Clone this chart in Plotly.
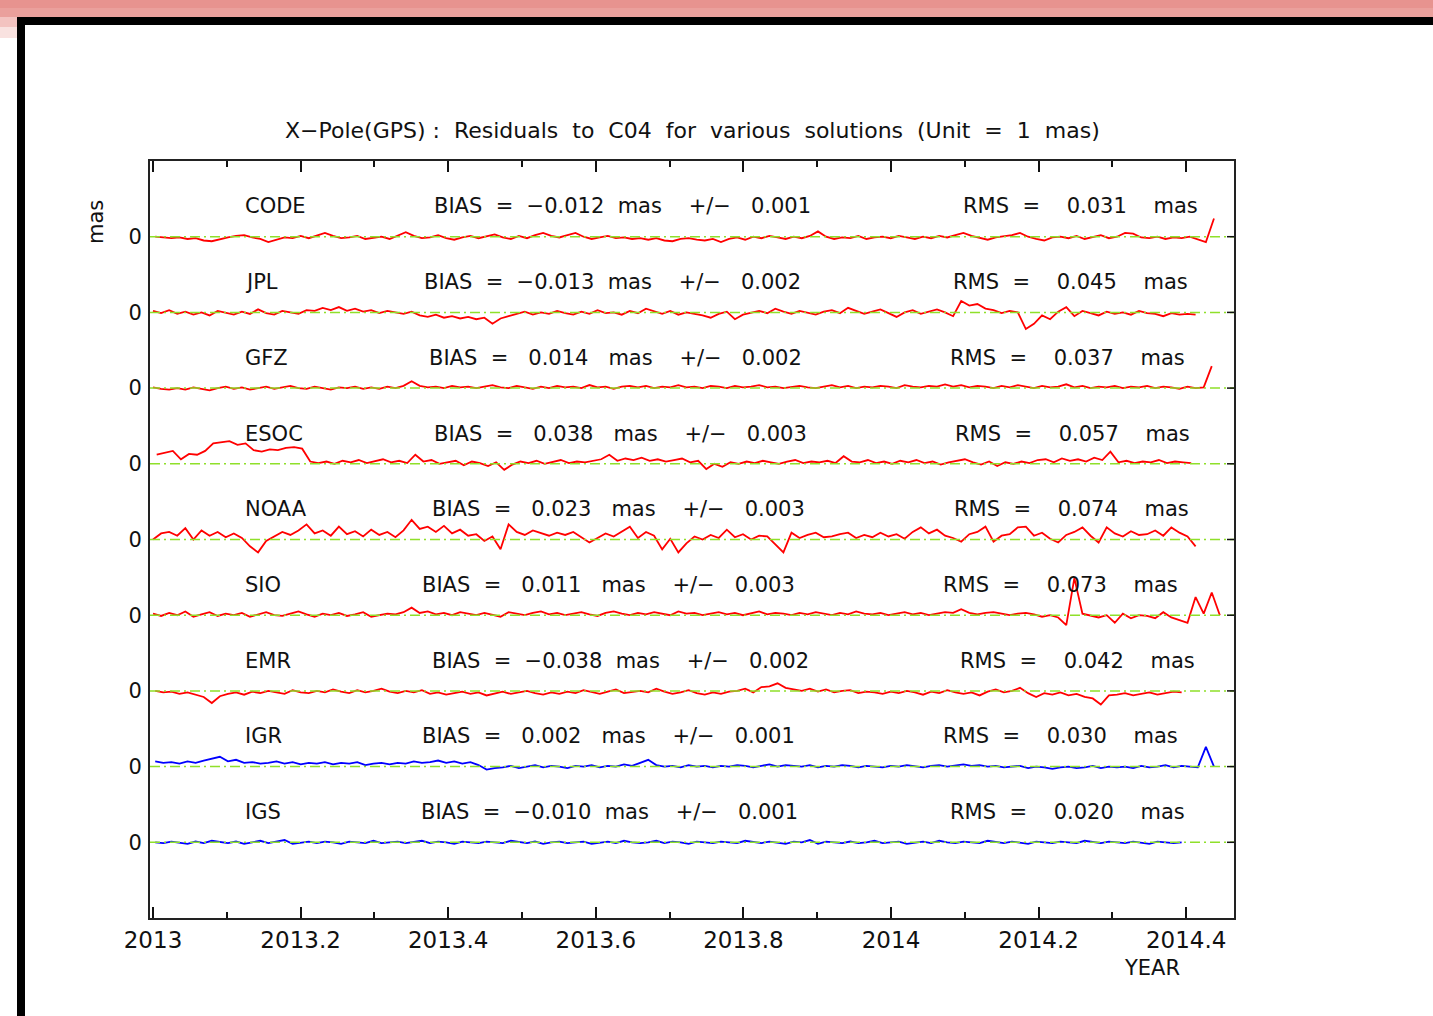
import numpy as np
import plotly.graph_objects as go

# ---------------------------------------------------------------------------
# Data: X-pole residuals (mas) w.r.t. C04, sampled every 4 days
# ---------------------------------------------------------------------------
SOLUTIONS = ["CODE", "JPL", "GFZ", "ESOC", "NOAA", "SIO", "EMR", "IGR", "IGS"]
BIAS = ["−0.012", "−0.013", "0.014", "0.038", "0.023", "0.011", "−0.038", "0.002", "−0.010"]
BIAS_ERR = ["0.001", "0.002", "0.002", "0.003", "0.003", "0.003", "0.002", "0.001", "0.001"]
RMS = ["0.031", "0.045", "0.037", "0.057", "0.074", "0.073", "0.042", "0.030", "0.020"]
START_YEAR = [2013.003, 2013.0, 2013.0, 2013.005, 2013.0, 2013.0, 2013.003, 2013.003, 2013.003]
STEP_DAYS = 4

code_res = [
    0.00, -0.01, -0.02, -0.01, -0.03, -0.02, -0.05, -0.06, -0.03, -0.01,
    0.01, 0.02, -0.01, -0.03, -0.07, -0.04, -0.01, -0.02, 0.01, -0.02,
    0.02, 0.05, 0.01, -0.02, -0.01, 0.01, -0.03, -0.02, 0.00, -0.03,
    0.02, 0.06, 0.01, -0.02, -0.01, 0.02, -0.02, -0.04, -0.01, 0.01,
    -0.02, 0.00, 0.03, -0.01, -0.03, 0.01, -0.02, 0.02, 0.05, 0.01,
    -0.01, 0.02, 0.05, 0.00, -0.03, -0.01, 0.01, -0.02, -0.01, -0.03,
    -0.02, -0.04, -0.02, -0.05, -0.06, -0.03, -0.02, -0.04, -0.05, -0.03,
    -0.07, -0.03, -0.01, -0.04, 0.00, -0.02, 0.01, -0.01, -0.03, 0.00,
    -0.02, 0.01, 0.07, 0.00, -0.03, -0.01, -0.02, 0.01, -0.03, -0.01,
    0.00, -0.02, 0.01, -0.01, -0.03, 0.00, -0.02, 0.01, -0.01, 0.02,
    0.05, 0.01, -0.02, -0.04, -0.01, 0.00, 0.02, 0.05, 0.00, -0.03,
    -0.05, -0.01, 0.00, -0.02, 0.01, -0.03, -0.01, 0.02, -0.02, 0.00,
    0.05, 0.04, -0.01, -0.02, 0.00, -0.03, -0.01, -0.02, 0.00, -0.03,
    -0.07, 0.24,
]

jpl_res = [
    0.02, -0.01, 0.03, -0.02, 0.01, -0.03, 0.00, -0.04, 0.02, -0.01,
    -0.03, 0.01, -0.02, 0.04, -0.01, -0.03, 0.02, 0.00, -0.02, 0.03,
    0.02, 0.06, 0.03, 0.07, 0.02, 0.05, 0.01, 0.03, -0.01, 0.02,
    0.00, -0.02, 0.01, -0.04, -0.06, -0.03, -0.07, -0.05, -0.08, -0.06,
    -0.09, -0.07, -0.15, -0.08, -0.05, -0.02, 0.01, -0.03, 0.00, -0.02,
    0.02, -0.01, -0.03, 0.01, -0.02, 0.03, -0.01, 0.00, -0.03, 0.02,
    -0.01, 0.05, 0.01, -0.02, 0.02, -0.03, 0.00, -0.02, -0.04, -0.07,
    -0.02, 0.01, -0.09, -0.03, 0.00, 0.02, -0.01, 0.05, 0.01, -0.02,
    0.02, 0.00, -0.03, 0.01, 0.03, -0.01, 0.06, 0.02, -0.02, 0.01,
    0.04, -0.01, -0.06, 0.00, 0.03, -0.02, 0.01, 0.04, 0.00, -0.05,
    0.15, 0.09, 0.11, 0.05, 0.03, -0.01, 0.02, 0.00, -0.22, -0.15,
    -0.04, -0.09, 0.01, 0.07, -0.05, 0.02, -0.01, -0.04, 0.01, -0.02,
    0.00, -0.03, 0.02, -0.01, -0.02, -0.05, -0.01, -0.03, -0.02, -0.03,
]

gfz_res = [
    0.01, -0.01, -0.02, 0.00, -0.02, 0.01, -0.01, -0.03, 0.00, 0.02,
    -0.01, 0.01, -0.02, 0.00, 0.02, -0.01, 0.01, 0.03, 0.00, -0.01,
    0.02, 0.00, -0.02, 0.01, 0.00, 0.02, -0.01, 0.01, -0.01, 0.02,
    0.00, 0.03, 0.09, 0.03, 0.01, 0.02, 0.00, 0.03, 0.01, 0.02,
    0.00, 0.02, 0.04, 0.01, 0.00, 0.03, 0.01, -0.01, 0.02, 0.00,
    0.03, 0.01, 0.02, 0.00, 0.04, 0.01, 0.02, -0.01, 0.02, 0.03,
    0.01, 0.03, 0.00, 0.02, 0.01, 0.04, 0.01, 0.02, 0.00, 0.03,
    0.02, 0.00, 0.03, 0.01, 0.02, 0.04, 0.01, 0.02, 0.00, 0.02,
    0.03, 0.01, 0.00, 0.02, 0.04, 0.01, 0.03, 0.00, 0.02, 0.01,
    0.03, 0.02, 0.00, 0.04, 0.02, 0.01, 0.03, 0.02, 0.05, 0.02,
    0.04, 0.01, 0.03, 0.02, 0.00, 0.03, 0.01, 0.04, 0.02, 0.00,
    0.03, 0.01, 0.02, 0.05, 0.01, 0.03, 0.00, 0.02, 0.01, 0.03,
    0.00, 0.02, 0.01, 0.03, 0.00, 0.02, 0.01, -0.01, 0.02, 0.00,
    0.01, 0.29,
]

esoc_res = [
    0.12, 0.15, 0.17, 0.06, 0.13, 0.12, 0.17, 0.27, 0.29, 0.30,
    0.25, 0.27, 0.18, 0.16, 0.19, 0.18, 0.21, 0.22, 0.20, 0.03,
    0.01, 0.03, 0.00, 0.04, 0.02, 0.05, 0.01, 0.03, 0.06, 0.02,
    0.04, 0.01, 0.12, 0.03, 0.05, 0.00, 0.02, 0.04, -0.02, 0.03,
    0.01, -0.03, 0.02, -0.08, -0.01, 0.03, 0.01, 0.04, 0.00, 0.02,
    0.05, 0.01, 0.03, 0.02, 0.04, 0.06, 0.12, 0.04, 0.07, 0.05,
    0.08, 0.04, 0.06, 0.03, 0.05, 0.07, 0.02, 0.04, -0.07, 0.00,
    -0.04, 0.02, 0.00, 0.03, 0.01, 0.04, 0.02, 0.00, 0.03, 0.05,
    0.01, 0.03, 0.02, 0.04, 0.01, 0.10, 0.03, 0.02, 0.05, 0.01,
    0.03, 0.00, 0.04, 0.02, 0.05, 0.01, 0.03, -0.01, 0.02, 0.04,
    0.06, 0.02, -0.01, 0.03, -0.03, 0.02, 0.00, 0.03, 0.01, 0.05,
    0.06, 0.02, 0.07, 0.04, 0.06, 0.03, 0.08, 0.05, 0.16, 0.02,
    0.04, 0.01, 0.03, 0.02, 0.05, 0.01, 0.03, 0.02, 0.01,
]

noaa_res = [
    0.00, 0.08, 0.10, 0.05, 0.15, 0.00, 0.12, 0.05, 0.10, 0.03,
    0.08, 0.02, -0.09, -0.17, -0.02, 0.04, 0.10, 0.06, 0.12, 0.20,
    0.08, 0.12, 0.05, 0.17, 0.07, 0.11, 0.04, 0.13, 0.06, 0.10,
    0.03, 0.12, 0.26, 0.14, 0.17, 0.10, 0.18, 0.08, 0.13, 0.05,
    0.07, -0.02, 0.04, -0.13, 0.20, 0.10, 0.06, 0.12, 0.08, 0.05,
    0.09, 0.06, 0.10, 0.03, -0.04, 0.02, 0.08, 0.04, 0.10, 0.17,
    0.02, 0.10, 0.05, -0.13, 0.01, -0.17, -0.05, 0.04, 0.00, 0.06,
    0.02, 0.13, 0.03, 0.07, 0.00, 0.05, 0.04, -0.06, -0.17, 0.09,
    0.02, 0.06, 0.09, 0.03, 0.04, 0.07, 0.09, 0.02, 0.06, 0.03,
    0.09, 0.04, 0.07, 0.01, 0.10, 0.16, 0.08, 0.13, 0.05, 0.02,
    -0.03, 0.07, 0.10, 0.17, -0.03, 0.05, 0.07, 0.16, 0.17, 0.05,
    0.09, 0.01, -0.04, 0.06, 0.10, 0.16, 0.05, -0.04, 0.16, 0.08,
    0.04, 0.11, 0.06, 0.07, 0.12, 0.05, 0.16, 0.09, 0.04, -0.09,
]

sio_res = [
    0.02, -0.01, 0.03, 0.00, 0.05, -0.02, 0.01, 0.04, -0.01, 0.02,
    0.00, 0.03, -0.02, 0.01, 0.04, 0.00, -0.01, 0.02, 0.05, 0.01,
    -0.02, 0.02, 0.00, 0.03, -0.01, 0.01, 0.04, -0.02, 0.00, 0.02,
    0.01, 0.04, 0.10, 0.03, 0.05, 0.01, 0.03, 0.00, 0.04, 0.02,
    0.00, 0.03, 0.01, -0.02, 0.04, 0.02, 0.00, 0.03, 0.05, 0.01,
    0.03, 0.00, 0.02, 0.04, 0.01, -0.01, 0.03, 0.05, 0.02, 0.00,
    0.03, 0.01, 0.04, 0.02, 0.00, 0.05, 0.02, 0.03, 0.00, 0.02,
    0.04, 0.01, 0.03, 0.00, 0.02, 0.05, 0.01, 0.03, 0.02, 0.00,
    0.03, 0.01, 0.04, 0.02, 0.00, 0.03, 0.01, 0.05, 0.02, 0.01,
    0.03, 0.00, 0.02, 0.04, 0.01, 0.03, 0.00, 0.02, 0.04, 0.03,
    0.08, 0.03, 0.01, 0.03, 0.04, 0.02, 0.00, 0.02, 0.03, 0.01,
    -0.02, 0.00, -0.03, -0.13, 0.49, 0.02, -0.01, -0.03, 0.00, -0.10,
    0.02, -0.04, 0.00, -0.01, -0.04, 0.04, -0.03, -0.07, -0.10, 0.24,
    0.02, 0.30, 0.00,
]

emr_res = [
    0.00, -0.02, -0.01, -0.04, -0.02, -0.05, -0.08, -0.16, -0.07, -0.04,
    -0.02, -0.05, -0.01, -0.03, 0.00, -0.02, -0.04, 0.01, -0.02, -0.03,
    0.00, -0.02, 0.02, -0.01, -0.03, 0.01, -0.02, 0.00, 0.03, -0.01,
    -0.03, 0.00, -0.02, 0.01, -0.04, -0.02, -0.05, -0.03, -0.01, -0.04,
    -0.02, -0.06, -0.03, -0.01, -0.04, -0.02, 0.00, -0.03, -0.05, -0.02,
    -0.04, -0.01, -0.03, 0.01, -0.02, -0.04, -0.01, 0.02, -0.03, -0.01,
    0.00, -0.02, 0.03, -0.01, -0.04, -0.02, 0.01, -0.03, -0.05, -0.02,
    -0.04, -0.01, 0.00, 0.03, -0.02, 0.05, 0.06, 0.10, 0.04, 0.02,
    0.00, 0.03, -0.01, 0.02, -0.02, 0.00, 0.01, -0.03, -0.01, -0.02,
    -0.04, -0.01, -0.03, 0.00, -0.02, -0.05, -0.01, -0.03, 0.01, -0.02,
    -0.04, -0.02, -0.06, -0.01, 0.02, -0.02, 0.00, 0.04, -0.03, -0.08,
    -0.03, -0.05, -0.02, -0.06, -0.04, -0.08, -0.10, -0.18, -0.06, -0.05,
    -0.03, -0.06, -0.04, -0.02, -0.05, -0.03, -0.01, -0.02,
]

igr_res = [
    0.07, 0.05, 0.06, 0.04, 0.07, 0.05, 0.08, 0.10, 0.13, 0.07,
    0.09, 0.05, 0.06, 0.04, 0.05, 0.07, 0.04, 0.06, 0.03, 0.05,
    0.04, 0.06, 0.03, 0.05, 0.04, 0.06, 0.02, 0.04, 0.05, 0.03,
    0.05, 0.04, 0.07, 0.05, 0.06, 0.08, 0.05, 0.07, 0.04, 0.06,
    0.02, -0.04, -0.02, -0.01, 0.01, -0.02, 0.00, 0.02, -0.01, 0.01,
    0.00, -0.02, 0.01, 0.00, 0.02, -0.01, 0.01, 0.00, 0.03, 0.01,
    0.05, 0.09, 0.02, 0.00, 0.01, -0.01, 0.02, 0.00, 0.01, -0.01,
    0.01, 0.00, 0.02, 0.01, -0.01, 0.01, 0.03, 0.00, 0.02, 0.01,
    0.00, 0.02, -0.01, 0.01, 0.00, 0.02, 0.01, -0.01, 0.01, 0.00,
    -0.01, 0.01, 0.00, 0.02, 0.00, -0.01, 0.01, 0.02, 0.00, 0.01,
    0.03, 0.01, 0.02, 0.00, 0.01, -0.01, 0.00, 0.01, -0.02, 0.00,
    -0.01, -0.03, -0.01, 0.00, -0.02, -0.01, 0.01, -0.02, 0.00, -0.01,
    0.00, -0.02, 0.01, -0.01, 0.00, 0.02, -0.01, 0.01, 0.00, -0.01,
    0.26, 0.00,
]

igs_res = [
    0.00, -0.01, 0.01, 0.00, -0.02, 0.01, -0.01, 0.02, 0.00, -0.01,
    0.01, -0.02, 0.00, 0.02, -0.01, 0.01, 0.03, -0.02, 0.00, 0.01,
    -0.01, 0.01, 0.00, -0.02, 0.01, 0.00, -0.01, 0.02, -0.01, 0.00,
    0.01, -0.01, 0.00, 0.02, -0.01, 0.01, 0.00, -0.02, 0.01, 0.00,
    -0.01, 0.01, 0.00, -0.01, 0.02, 0.00, -0.01, 0.01, -0.02, 0.00,
    0.01, -0.01, 0.00, 0.01, -0.02, 0.00, 0.01, -0.01, 0.02, 0.00,
    -0.01, 0.00, 0.02, -0.01, 0.01, 0.00, -0.02, 0.01, 0.00, -0.01,
    0.01, 0.00, -0.01, 0.02, 0.00, -0.01, 0.01, 0.00, -0.02, 0.01,
    0.00, 0.03, -0.02, 0.01, 0.00, -0.01, 0.01, -0.01, 0.00, 0.02,
    -0.01, 0.00, 0.01, -0.02, 0.00, 0.01, -0.01, 0.02, 0.00, -0.01,
    0.01, 0.00, -0.01, 0.02, 0.00, -0.01, 0.01, 0.00, -0.02, 0.01,
    0.00, -0.01, 0.01, 0.00, -0.01, 0.02, 0.00, -0.01, 0.01, 0.00,
    -0.01, 0.01, 0.00, -0.02, 0.01, 0.00, -0.01, 0.00,
]

RESIDUALS = [code_res, jpl_res, gfz_res, esoc_res, noaa_res,
             sio_res, emr_res, igr_res, igs_res]
LINE_COLORS = ["#ff0000"] * 7 + ["#0000ff"] * 2

X_TICKS = [2013.0, 2013.2, 2013.4, 2013.6, 2013.8, 2014.0, 2014.2, 2014.4]
X_TICK_TEXT = ["2013", "2013.2", "2013.4", "2013.6", "2013.8", "2014", "2014.2", "2014.4"]

# ---------------------------------------------------------------------------
# Page geometry (pixels)
# ---------------------------------------------------------------------------
W, H = 1433, 1016
PL, PR, PT, PB = 150, 1234, 161, 918          # plot frame
FONT = "DejaVu Sans"
INK = "#111111"
NB = "\u00a0"


def px_x(px):
    return (px - PL) / (PR - PL)


def px_y(py):
    return (PB - py) / (PB - PT)


fig = go.Figure()

for i, (vals, color, t0) in enumerate(zip(RESIDUALS, LINE_COLORS, START_YEAR)):
    vals = np.asarray(vals)
    t = t0 + np.arange(len(vals)) * STEP_DAYS / 365.25
    fig.add_trace(go.Scatter(
        x=t, y=vals - i, mode="lines",
        line=dict(color=color, width=1.8),
        hoverinfo="skip", showlegend=False,
    ))

shapes = []
annotations = []

# zero reference lines and right-hand ticks
for i in range(len(SOLUTIONS)):
    shapes.append(dict(type="line", xref="paper", yref="y", x0=0, x1=1, y0=-i, y1=-i,
                       line=dict(color="#8fe02a", width=1.5, dash="10px,4px,2px,4px"),
                       layer="above"))
    shapes.append(dict(type="line", xref="paper", yref="y", x0=1 - 7 / (PR - PL), x1=1,
                       y0=-i, y1=-i, line=dict(color=INK, width=1.5), layer="above"))

# page decoration: pink header and black border
shapes += [
    dict(type="rect", xref="paper", yref="paper", x0=px_x(0), x1=px_x(W),
         y0=px_y(8), y1=px_y(0), fillcolor="#e7938f", line_width=0, layer="below"),
    dict(type="rect", xref="paper", yref="paper", x0=px_x(0), x1=px_x(W),
         y0=px_y(17), y1=px_y(8), fillcolor="#eaa09c", line_width=0, layer="below"),
    dict(type="rect", xref="paper", yref="paper", x0=px_x(0), x1=px_x(17),
         y0=px_y(27), y1=px_y(17), fillcolor="#f3c3c0", line_width=0, layer="below"),
    dict(type="rect", xref="paper", yref="paper", x0=px_x(0), x1=px_x(17),
         y0=px_y(38), y1=px_y(27), fillcolor="#f9e2e0", line_width=0, layer="below"),
    dict(type="rect", xref="paper", yref="paper", x0=px_x(17), x1=px_x(W),
         y0=px_y(25), y1=px_y(17), fillcolor="#000000", line_width=0, layer="below"),
    dict(type="rect", xref="paper", yref="paper", x0=px_x(17), x1=px_x(25),
         y0=px_y(H), y1=px_y(17), fillcolor="#000000", line_width=0, layer="below"),
]

# per-solution labels
BIAS_X = [432, 422, 427, 432, 430, 420, 430, 420, 419]
RMS_X = [961, 951, 948, 953, 952, 941, 958, 941, 948]
for i, name in enumerate(SOLUTIONS):
    yl = -i + 0.4
    annotations.append(dict(x=px_x(243), y=yl, xref="paper", yref="y", text=name,
                            showarrow=False, xanchor="left", yanchor="middle"))
    b = BIAS[i]
    if b.startswith("−"):
        btxt = f"BIAS{NB * 2}={NB * 2}{b}{NB * 2}mas{NB * 4}+/−{NB * 3}{BIAS_ERR[i]}"
    else:
        btxt = f"BIAS{NB * 2}={NB * 3}{b}{NB * 3}mas{NB * 4}+/−{NB * 3}{BIAS_ERR[i]}"
    annotations.append(dict(x=px_x(BIAS_X[i]), y=yl, xref="paper", yref="y", text=btxt,
                            showarrow=False, xanchor="left", yanchor="middle"))
    rtxt = f"RMS{NB * 2}={NB * 4}{RMS[i]}{NB * 4}mas"
    annotations.append(dict(x=px_x(RMS_X[i]), y=yl, xref="paper", yref="y", text=rtxt,
                            showarrow=False, xanchor="left", yanchor="middle"))

title = (f"X−Pole(GPS){NB}:{NB}{NB}Residuals{NB}{NB}to{NB}{NB}C04{NB}{NB}for{NB}{NB}various"
         f"{NB}{NB}solutions{NB}{NB}(Unit{NB}{NB}={NB}{NB}1{NB}{NB}mas)")
annotations += [
    dict(x=px_x(692), y=px_y(130), xref="paper", yref="paper", text=title,
         font=dict(family=FONT, size=22, color=INK),
         showarrow=False, xanchor="center", yanchor="middle"),
    dict(x=px_x(1152), y=px_y(968), xref="paper", yref="paper", text="YEAR",
         showarrow=False, xanchor="center", yanchor="middle"),
    dict(x=px_x(96), y=px_y(222), xref="paper", yref="paper", text="mas", textangle=-90,
         showarrow=False, xanchor="center", yanchor="middle"),
]

axis_font = dict(family=FONT, size=21, color=INK)

fig.update_layout(
    width=W, height=H,
    margin=dict(l=PL, r=W - PR, t=PT, b=H - PB, pad=0),
    paper_bgcolor="white", plot_bgcolor="white",
    font=axis_font,
    showlegend=False,
    shapes=shapes,
    annotations=annotations,
    xaxis=dict(
        range=[2013 - 3 / 738, 2013 + (PR - 153) / 738],
        tickmode="array", tickvals=X_TICKS, ticktext=X_TICK_TEXT,
        ticks="inside", ticklen=11, tickwidth=1.5, tickcolor=INK,
        minor=dict(tickvals=list(np.round(np.arange(2013.1, 2014.5, 0.2), 1)),
                   ticks="inside", ticklen=6, tickwidth=1.5, tickcolor=INK, showgrid=False),
        showline=True, linewidth=2, linecolor="#222222", mirror="ticks",
        showgrid=False, zeroline=False,
        tickfont=dict(family=FONT, size=23, color=INK), ticklabelstandoff=0,
    ),
    yaxis=dict(
        range=[-9, 1],
        tickmode="array", tickvals=[-i for i in range(len(SOLUTIONS))],
        ticktext=["0"] * len(SOLUTIONS), ticks="",
        showline=True, linewidth=2, linecolor="#222222", mirror=True,
        showgrid=False, zeroline=False, tickfont=axis_font, ticklabelstandoff=2,
    ),
)

fig.write_html("out.html")
